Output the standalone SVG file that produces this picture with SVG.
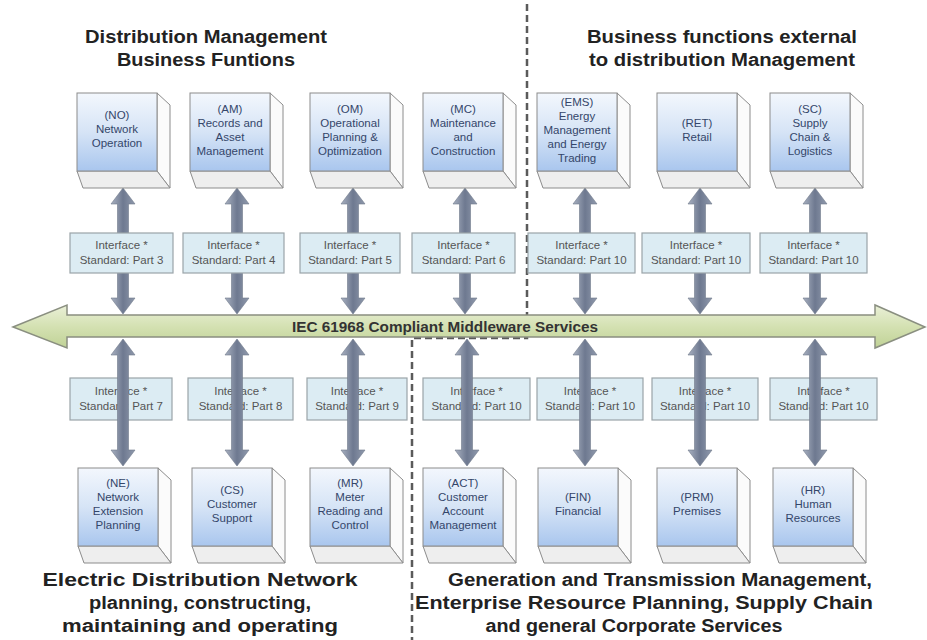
<svg xmlns="http://www.w3.org/2000/svg" xmlns:xlink="http://www.w3.org/1999/xlink" width="927" height="640" viewBox="0 0 927 640">
<style>
.front{fill:url(#gFront);stroke:#8c8c8c;stroke-width:1}
.side{fill:#fbfbfb;stroke:#8c8c8c;stroke-width:1}
.bottom{fill:#eeeeee;stroke:#8c8c8c;stroke-width:1}
.bt{font-family:"Liberation Sans",Arial,sans-serif;font-size:11.5px;fill:#34466a;text-anchor:middle}
.ifbox{fill:#dcecf3;stroke:#9aa4a8;stroke-width:1.2}
.it{font-family:"Liberation Sans",Arial,sans-serif;font-size:11.5px;fill:#555;text-anchor:middle}
.va{fill:url(#gArrow);stroke:#6f788a;stroke-width:0.6}
.h{font-family:"Liberation Sans",Arial,sans-serif;font-weight:bold;font-size:18px;fill:#222;text-anchor:middle}
</style>
<defs>
<linearGradient id="gFront" x1="0" y1="0" x2="0" y2="1">
<stop offset="0" stop-color="#f3f7fd"/>
<stop offset="0.5" stop-color="#d6e4f6"/>
<stop offset="1" stop-color="#a9c6ee"/>
</linearGradient>
<linearGradient id="gArrow" x1="0" y1="0" x2="1" y2="0">
<stop offset="0" stop-color="#a9b1c1"/>
<stop offset="0.5" stop-color="#6e7990"/>
<stop offset="1" stop-color="#909aad"/>
</linearGradient>
<linearGradient id="gMid" x1="0" y1="0" x2="0" y2="1">
<stop offset="0" stop-color="#eaf0d8"/>
<stop offset="0.5" stop-color="#d4e1b2"/>
<stop offset="1" stop-color="#c0d296"/>
</linearGradient>
<g id="box3d">
<polygon class="side" points="80,0 93,12 93,95 80,78"/>
<polygon class="bottom" points="0,78 80,78 93,95 6,95"/>
<rect class="front" x="0" y="0" width="80" height="78"/>
</g>
</defs>

<rect width="927" height="640" fill="#ffffff"/>

<g id="headings">
<text class="h" x="206" y="43" textLength="242" lengthAdjust="spacingAndGlyphs">Distribution Management</text>
<text class="h" x="206" y="66" textLength="178" lengthAdjust="spacingAndGlyphs">Business Funtions</text>
<text class="h" x="722" y="43" textLength="270" lengthAdjust="spacingAndGlyphs">Business functions external</text>
<text class="h" x="722" y="66" textLength="266" lengthAdjust="spacingAndGlyphs">to distribution Management</text>
<text class="h" x="200" y="586" textLength="315" lengthAdjust="spacingAndGlyphs">Electric Distribution Network</text>
<text class="h" x="200" y="609" textLength="222" lengthAdjust="spacingAndGlyphs">planning, constructing,</text>
<text class="h" x="200" y="632" textLength="276" lengthAdjust="spacingAndGlyphs">maintaining and operating</text>
<text class="h" x="660" y="586" textLength="424" lengthAdjust="spacingAndGlyphs">Generation and Transmission Management,</text>
<text class="h" x="644" y="609" textLength="458" lengthAdjust="spacingAndGlyphs">Enterprise Resource Planning, Supply Chain</text>
<text class="h" x="634" y="632" textLength="297" lengthAdjust="spacingAndGlyphs">and general Corporate Services</text>
</g>

<g id="connectors">
<path id="divider" d="M527,4 V338 H412 V640" fill="none" stroke="#5a5a5a" stroke-width="2.5" stroke-dasharray="7 4"/>

<g id="top-arrows">
<polygon class="va" points="123,188 135,204 128.5,204 128.5,298 135,298 123,314 111,298 117.5,298 117.5,204 111,204"/>
<polygon class="va" points="237,188 249,204 242.5,204 242.5,298 249,298 237,314 225,298 231.5,298 231.5,204 225,204"/>
<polygon class="va" points="353,188 365,204 358.5,204 358.5,298 365,298 353,314 341,298 347.5,298 347.5,204 341,204"/>
<polygon class="va" points="465,188 477,204 470.5,204 470.5,298 477,298 465,314 453,298 459.5,298 459.5,204 453,204"/>
<polygon class="va" points="585,188 597,204 590.5,204 590.5,298 597,298 585,314 573,298 579.5,298 579.5,204 573,204"/>
<polygon class="va" points="700,188 712,204 705.5,204 705.5,298 712,298 700,314 688,298 694.5,298 694.5,204 688,204"/>
<polygon class="va" points="815,188 827,204 820.5,204 820.5,298 827,298 815,314 803,298 809.5,298 809.5,204 803,204"/>
</g>

<g id="top-interfaces">
<rect class="ifbox" x="70" y="233" width="103" height="40"/>
<text class="it" x="121.5" y="249">Interface *</text><text class="it" x="121.5" y="264">Standard: Part 3</text>
<rect class="ifbox" x="183" y="233" width="101" height="40"/>
<text class="it" x="233.5" y="249">Interface *</text><text class="it" x="233.5" y="264">Standard: Part 4</text>
<rect class="ifbox" x="300" y="233" width="100" height="40"/>
<text class="it" x="350" y="249">Interface *</text><text class="it" x="350" y="264">Standard: Part 5</text>
<rect class="ifbox" x="412" y="233" width="103" height="40"/>
<text class="it" x="463.5" y="249">Interface *</text><text class="it" x="463.5" y="264">Standard: Part 6</text>
<rect class="ifbox" x="528" y="233" width="107" height="40"/>
<text class="it" x="581.5" y="249">Interface *</text><text class="it" x="581.5" y="264">Standard: Part 10</text>
<rect class="ifbox" x="642" y="233" width="108" height="40"/>
<text class="it" x="696" y="249">Interface *</text><text class="it" x="696" y="264">Standard: Part 10</text>
<rect class="ifbox" x="760" y="233" width="107" height="40"/>
<text class="it" x="813.5" y="249">Interface *</text><text class="it" x="813.5" y="264">Standard: Part 10</text>
</g>

<g id="middleware">
<polygon points="13,327 67,305 67,315 875,315 875,305 925,327 875,348 875,337 67,337 67,348" fill="url(#gMid)" stroke="#8a8f80" stroke-width="1.5"/>
<text x="445" y="332" font-family="'Liberation Sans',Arial,sans-serif" font-weight="bold" font-size="14.5" fill="#333" text-anchor="middle" textLength="306" lengthAdjust="spacingAndGlyphs">IEC 61968 Compliant Middleware Services</text>
</g>

<g id="bottom-interfaces">
<rect class="ifbox" x="70" y="378" width="102" height="42"/>
<text class="it" x="121" y="395">Interface *</text><text class="it" x="121" y="410">Standard: Part 7</text>
<rect class="ifbox" x="188" y="378" width="105" height="42"/>
<text class="it" x="240.5" y="395">Interface *</text><text class="it" x="240.5" y="410">Standard: Part 8</text>
<rect class="ifbox" x="307" y="378" width="100" height="42"/>
<text class="it" x="357" y="395">Interface *</text><text class="it" x="357" y="410">Standard: Part 9</text>
<rect class="ifbox" x="423" y="378" width="107" height="42"/>
<text class="it" x="476.5" y="395">Interface *</text><text class="it" x="476.5" y="410">Standard: Part 10</text>
<rect class="ifbox" x="537" y="378" width="106" height="42"/>
<text class="it" x="590" y="395">Interface *</text><text class="it" x="590" y="410">Standard: Part 10</text>
<rect class="ifbox" x="652" y="378" width="106" height="42"/>
<text class="it" x="705" y="395">Interface *</text><text class="it" x="705" y="410">Standard: Part 10</text>
<rect class="ifbox" x="770" y="378" width="107" height="42"/>
<text class="it" x="823.5" y="395">Interface *</text><text class="it" x="823.5" y="410">Standard: Part 10</text>
</g>

<g id="bottom-arrows">
<polygon class="va" points="123,339 135,355 128.5,355 128.5,450 135,450 123,466 111,450 117.5,450 117.5,355 111,355"/>
<polygon class="va" points="237,339 249,355 242.5,355 242.5,450 249,450 237,466 225,450 231.5,450 231.5,355 225,355"/>
<polygon class="va" points="353,339 365,355 358.5,355 358.5,450 365,450 353,466 341,450 347.5,450 347.5,355 341,355"/>
<polygon class="va" points="467,339 479,355 472.5,355 472.5,450 479,450 467,466 455,450 461.5,450 461.5,355 455,355"/>
<polygon class="va" points="585,339 597,355 590.5,355 590.5,450 597,450 585,466 573,450 579.5,450 579.5,355 573,355"/>
<polygon class="va" points="700,339 712,355 705.5,355 705.5,450 712,450 700,466 688,450 694.5,450 694.5,355 688,355"/>
<polygon class="va" points="815,339 827,355 820.5,355 820.5,450 827,450 815,466 803,450 809.5,450 809.5,355 803,355"/>
</g>
</g>

<g id="NO" transform="translate(77,93)"><use xlink:href="#box3d" href="#box3d"/>
<text class="bt" x="40" y="26">(NO)</text><text class="bt" x="40" y="40">Network</text><text class="bt" x="40" y="54">Operation</text></g>
<g id="AM" transform="translate(190,93)"><use xlink:href="#box3d" href="#box3d"/>
<text class="bt" x="40" y="20">(AM)</text><text class="bt" x="40" y="34">Records and</text><text class="bt" x="40" y="48">Asset</text><text class="bt" x="40" y="62">Management</text></g>
<g id="OM" transform="translate(310,93)"><use xlink:href="#box3d" href="#box3d"/>
<text class="bt" x="40" y="20">(OM)</text><text class="bt" x="40" y="34">Operational</text><text class="bt" x="40" y="48">Planning &amp;</text><text class="bt" x="40" y="62">Optimization</text></g>
<g id="MC" transform="translate(423,93)"><use xlink:href="#box3d" href="#box3d"/>
<text class="bt" x="40" y="20">(MC)</text><text class="bt" x="40" y="34">Maintenance</text><text class="bt" x="40" y="48">and</text><text class="bt" x="40" y="62">Construction</text></g>
<g id="EMS" transform="translate(537,93)"><use xlink:href="#box3d" href="#box3d"/>
<text class="bt" x="40" y="13">(EMS)</text><text class="bt" x="40" y="27">Energy</text><text class="bt" x="40" y="41">Management</text><text class="bt" x="40" y="55">and Energy</text><text class="bt" x="40" y="69">Trading</text></g>
<g id="RET" transform="translate(657,93)"><use xlink:href="#box3d" href="#box3d"/>
<text class="bt" x="40" y="34">(RET)</text><text class="bt" x="40" y="48">Retail</text></g>
<g id="SC" transform="translate(770,93)"><use xlink:href="#box3d" href="#box3d"/>
<text class="bt" x="40" y="20">(SC)</text><text class="bt" x="40" y="34">Supply</text><text class="bt" x="40" y="48">Chain &amp;</text><text class="bt" x="40" y="62">Logistics</text></g>

<g id="NE" transform="translate(78,468)"><use xlink:href="#box3d" href="#box3d"/>
<text class="bt" x="40" y="19">(NE)</text><text class="bt" x="40" y="33">Network</text><text class="bt" x="40" y="47">Extension</text><text class="bt" x="40" y="61">Planning</text></g>
<g id="CS" transform="translate(192,468)"><use xlink:href="#box3d" href="#box3d"/>
<text class="bt" x="40" y="26">(CS)</text><text class="bt" x="40" y="40">Customer</text><text class="bt" x="40" y="54">Support</text></g>
<g id="MR" transform="translate(310,468)"><use xlink:href="#box3d" href="#box3d"/>
<text class="bt" x="40" y="19">(MR)</text><text class="bt" x="40" y="33">Meter</text><text class="bt" x="40" y="47">Reading and</text><text class="bt" x="40" y="61">Control</text></g>
<g id="ACT" transform="translate(423,468)"><use xlink:href="#box3d" href="#box3d"/>
<text class="bt" x="40" y="19">(ACT)</text><text class="bt" x="40" y="33">Customer</text><text class="bt" x="40" y="47">Account</text><text class="bt" x="40" y="61">Management</text></g>
<g id="FIN" transform="translate(538,468)"><use xlink:href="#box3d" href="#box3d"/>
<text class="bt" x="40" y="33">(FIN)</text><text class="bt" x="40" y="47">Financial</text></g>
<g id="PRM" transform="translate(657,468)"><use xlink:href="#box3d" href="#box3d"/>
<text class="bt" x="40" y="33">(PRM)</text><text class="bt" x="40" y="47">Premises</text></g>
<g id="HR" transform="translate(773,468)"><use xlink:href="#box3d" href="#box3d"/>
<text class="bt" x="40" y="26">(HR)</text><text class="bt" x="40" y="40">Human</text><text class="bt" x="40" y="54">Resources</text></g>
</svg>
